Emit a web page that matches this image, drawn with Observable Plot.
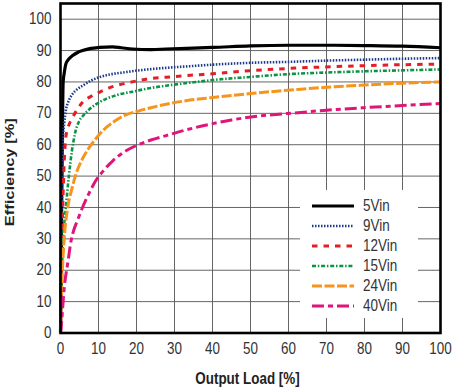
<!DOCTYPE html>
<html>
<head>
<meta charset="utf-8">
<script src="https://cdn.jsdelivr.net/npm/d3@7"></script>
<script src="https://cdn.jsdelivr.net/npm/@observablehq/plot@0.6"></script>
<style>
  html, body { margin: 0; padding: 0; background: #fff; }
  #wrap { position: relative; width: 455px; height: 391px; }
  .lg { position: absolute; left: 300px; top: 190px; width: 118px; height: 128px; background: #fff; }
  .row { position: absolute; left: 12px; height: 20px; display: flex; align-items: center; }
  .row span { display: inline-block; margin-left: 9px; font: 16px "Liberation Sans", Arial, sans-serif; color: #333; transform: scaleX(0.84); transform-origin: left center; }
</style>
</head>
<body>
<div id="wrap"></div>
<script>
const seriesNames = ["5Vin", "9Vin", "12Vin", "15Vin", "24Vin", "40Vin"];
const xTicks = [0, 10, 20, 30, 40, 50, 60, 70, 80, 90, 100];
const yTicks = [0, 10, 20, 30, 40, 50, 60, 70, 80, 90, 100];

const v5 = [[0,0],[0.3,40],[0.55,70],[0.7,80],[1,83],[1.4,85.7],[2,87],[3.2,88.4],[4.5,89.4],[5.8,90],[8,90.7],[10.2,91],[13.7,91.2],[16,90.9],[19,90.5],[23.8,90.3],[27.8,90.5],[35,90.8],[40,91],[50,91.5],[60,91.7],[70,91.7],[80,91.6],[90,91.4],[100,90.9]];
const v9 = [[0,0],[0.25,30],[0.45,50],[0.6,61],[1,67],[1.4,70.9],[2,73.5],[3.2,76.2],[4.5,77.8],[5.8,78.8],[8,80.4],[10.2,81.5],[13,82.4],[16.4,83],[20,83.6],[23.8,84.1],[27.8,84.5],[35,85.1],[40,85.5],[50,86.1],[60,86.4],[70,86.8],[80,87.1],[90,87.4],[100,87.6]];
const v12 = [[0,0],[0.4,30],[0.7,45],[1,55],[1.4,62.4],[2,65.5],[3.2,68.7],[4.5,71.4],[5.8,73.5],[8,75.4],[10.2,76.7],[13,78.2],[16.4,79.4],[20,80.3],[23.8,81.1],[27.8,81.5],[35,82.2],[40,82.6],[50,83.6],[60,84.3],[70,84.8],[80,85.2],[90,85.5],[100,85.7]];
const v15 = [[0,0],[0.5,25],[1,35],[1.4,40],[2.2,50],[3,58],[3.8,63.5],[4.9,67.5],[6,69.3],[7.6,71.3],[9.5,73],[12,74.6],[15,75.9],[19,76.9],[23.8,78.1],[27.8,78.8],[35,79.9],[40,80.6],[50,81.6],[60,82.5],[70,83],[80,83.4],[90,83.7],[100,84]];
const v24 = [[0,0],[0.5,20],[1,30.5],[1.9,40],[3,46],[4.1,50.7],[6,56],[7.5,59],[8.9,61.3],[11,64.3],[14.6,67.8],[17,69.4],[20.7,70.8],[23.8,71.8],[27.8,72.9],[33,74],[39.6,75],[50,76.3],[63.3,77.7],[70,78.3],[80,79],[90,79.6],[100,80]];
const v40 = [[0,0],[0.1,1],[1,14.6],[2,23],[2.8,29.5],[3.2,31.6],[4.5,36],[5.8,40],[7.5,44.5],[9.3,48.6],[11.5,52],[13.7,54.8],[16.5,57.5],[19.9,59.7],[23.8,61.5],[27.8,62.9],[33,64.7],[39.6,66.6],[45,67.9],[52.8,69.2],[63.3,70.3],[70,71],[80,71.8],[90,72.5],[100,73.1]];

const seriesValues = [v5, v9, v12, v15, v24, v40];
const styles = [
  {stroke: "#000000", width: 3.2, dash: null},
  {stroke: "#1b3c8c", width: 2.6, dash: "1.5,1.5"},
  {stroke: "#e31e26", width: 3, dash: "5.5,6"},
  {stroke: "#0b9444", width: 2.6, dash: "4,1.8,1.5,1.8"},
  {stroke: "#f7941d", width: 3, dash: "10,2.5"},
  {stroke: "#e0157a", width: 3, dash: "12,4,5,4"}
];

const font = '"Liberation Sans", Arial, sans-serif';

const lineMarks = seriesValues.map((vals, i) =>
  Plot.line(vals.map(([x, y]) => ({x, y})), {
    x: "x", y: "y",
    stroke: styles[i].stroke,
    strokeWidth: styles[i].width,
    strokeDasharray: styles[i].dash,
    strokeLinecap: "butt",
    strokeLinejoin: "round",
    curve: "monotone-x"
  })
);

const chart = Plot.plot({
  width: 455,
  height: 391,
  marginLeft: 60,
  marginRight: 15,
  marginTop: 3,
  marginBottom: 58.5,
  style: {fontFamily: font, fontSize: "16px", color: "#333", background: "#fff"},
  x: {domain: [0, 100], ticks: xTicks},
  y: {domain: [0, 105], ticks: yTicks},
  marks: [
    Plot.gridX(xTicks.slice(1, -1), {stroke: "#555", strokeOpacity: 1, strokeWidth: 0.9}),
    Plot.gridY(yTicks.slice(1), {stroke: "#555", strokeOpacity: 1, strokeWidth: 0.9}),
    Plot.axisX(xTicks, {tickSize: 0, tickPadding: 10, label: null, fill: "#333", fontSize: 16}),
    Plot.axisY(yTicks, {tickSize: 0, tickPadding: 9, label: null, fill: "#333", fontSize: 16}),
    ...lineMarks,
    Plot.frame({stroke: "#000", strokeWidth: 2.6}),
    Plot.text(["Efficiency [%]"], {frameAnchor: "left", textAnchor: "middle", rotate: -90, dx: -50.5, dy: 4, fontWeight: "bold", fontSize: 16.5, fill: "#222"}),
    Plot.text(["Output Load [%]"], {frameAnchor: "bottom", textAnchor: "middle", dy: 45.5, dx: -3, lineAnchor: "middle", fontWeight: "bold", fontSize: 16, fill: "#222"})
  ]
});

// narrow the glyphs horizontally (condensed look of the original)
chart.querySelectorAll("text").forEach(t => {
  const tr = t.getAttribute("transform") || "";
  const rotated = /rotate/.test(tr);
  t.setAttribute("transform", (tr + (rotated ? " scale(1,0.82)" : " scale(0.84,1)")).trim());
});

const wrap = document.getElementById("wrap");
wrap.appendChild(chart);

const lg = document.createElement("div");
lg.className = "lg";
seriesNames.forEach((name, i) => {
  const row = document.createElement("div");
  row.className = "row";
  row.style.top = (5.5 + 20 * i) + "px";
  const s = styles[i];
  row.innerHTML = `<svg width="42" height="6"><line x1="0" y1="3" x2="42" y2="3" stroke="${s.stroke}" stroke-width="${s.width}" ${s.dash ? `stroke-dasharray="${s.dash}"` : ""}/></svg><span>${name}</span>`;
  lg.appendChild(row);
});
wrap.appendChild(lg);
</script>
</body>
</html>
